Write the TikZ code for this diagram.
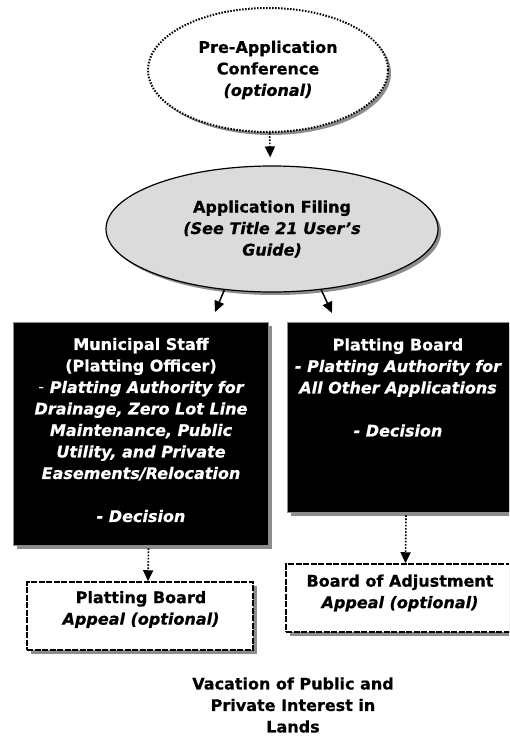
\documentclass[tikz,border=0pt]{standalone}
\usepackage{fontspec}
\setmainfont{DejaVu Sans}[BoldFeatures={FakeBold=0.6},BoldItalicFeatures={FakeBold=0.6}]
\usetikzlibrary{shapes.geometric,shadows,arrows.meta}
\definecolor{shade}{gray}{0.55}
\definecolor{filingfill}{gray}{0.86}

\begin{document}
\begin{tikzpicture}[x=1pt,y=1pt,
  every node/.style={font=\fontsize{16}{21.5}\selectfont\bfseries, align=center, inner sep=0pt},
  dotring/.style={ellipse, draw, line width=2pt, dash pattern=on 1.5pt off 1.5pt, fill=white,
    drop shadow={shadow xshift=3pt, shadow yshift=-3pt, fill=shade, opacity=1}},
  grayring/.style={ellipse, draw, line width=1.2pt, fill=filingfill,
    drop shadow={shadow xshift=3pt, shadow yshift=-3pt, fill=shade, opacity=1}},
  blackbox/.style={rectangle, fill=black, draw=shade, line width=0.5pt,
    drop shadow={shadow xshift=4pt, shadow yshift=-4pt, fill=shade, opacity=1}},
  dashbox/.style={rectangle, draw, fill=white, line width=1.5pt, dash pattern=on 6pt off 1.5pt,
    drop shadow={shadow xshift=4pt, shadow yshift=-4pt, fill=shade, opacity=1}},
  boxtext/.style={text=white},
  dotarrow/.style={line width=1.6pt, dash pattern=on 1.6pt off 1.6pt, -{Triangle[length=11pt,width=10pt]}},
  solidarrow/.style={line width=1.5pt, -{Triangle[length=11pt,width=10pt]}},
]
\useasboundingbox (0,0) rectangle (509,-738);
\clip (0,0) rectangle (509,-738);

% upper ellipses
\node[dotring, minimum width=240pt, minimum height=124pt] (pre) at (268,-70)
  {Pre-Application\\Conference\\{\itshape (optional)}};
\node[grayring, minimum width=332pt, minimum height=126pt] (filing) at (272,-229)
  {Application Filing\\{\itshape (See Title 21 User's}\\{\itshape Guide)}};

% decision boxes
\node[blackbox, minimum width=255pt, minimum height=223pt] (staff) at (140.5,-433.5) {};
\node[boxtext] (staffTxt) at (141,-430)
  {Municipal Staff\\
   (Platting Officer)\\
   {\mdseries -} {\itshape Platting Authority for}\\
   {\itshape Drainage, Zero Lot Line}\\
   {\itshape Maintenance, Public}\\
   {\itshape Utility, and Private}\\
   {\itshape Easements/Relocation}\\[21.5pt]
   {\itshape - Decision}};

\node[blackbox, minimum width=224pt, minimum height=190pt] (board) at (399,-417) {};
\node[boxtext] (boardTxt) at (398,-387.5)
  {Platting Board\\
   {\itshape - Platting Authority for}\\
   {\itshape All Other Applications}\\[21.5pt]
   {\itshape - Decision}};

% appeal boxes
\node[dashbox, minimum width=226pt, minimum height=68pt] (appealL) at (140,-616) {};
\node (appealLTxt) at (141,-609.5) {Platting Board\\{\itshape Appeal (optional)}};
\node[dashbox, minimum width=225pt, minimum height=68pt] (appealR) at (398.5,-598) {};
\node (appealRTxt) at (400,-593) {Board of Adjustment\\{\itshape Appeal (optional)}};

% caption
\node (title) at (293,-705) {Vacation of Public and\\Private Interest in\\Lands};

% connectors
\coordinate (toStaff) at (215,-312);
\coordinate (toBoard) at (332,-313);
\draw[dotarrow, shorten >=8pt] (pre) -- (filing);
\draw[solidarrow] (filing.232) -- (toStaff);
\draw[solidarrow] (filing.309) -- (toBoard);
\draw[dotarrow] ([xshift=8pt,yshift=-3pt]staff.south) -- ([xshift=8pt]appealL.north);
\draw[dotarrow] ([xshift=7pt,yshift=-3pt]board.south) -- ([xshift=7pt]appealR.north);
\end{tikzpicture}
\end{document}
